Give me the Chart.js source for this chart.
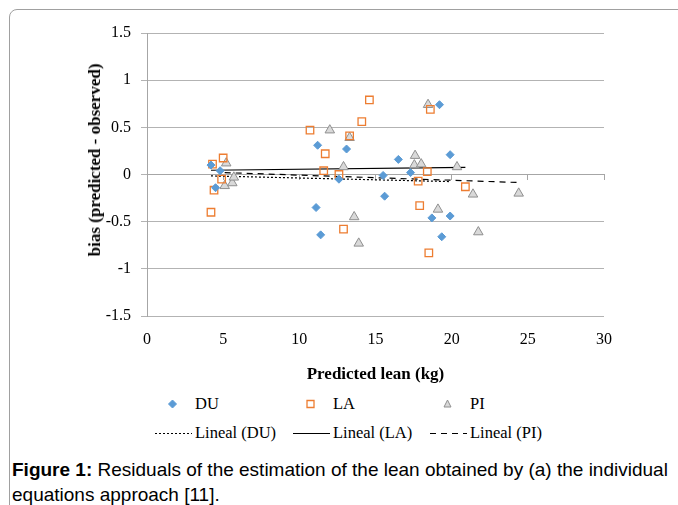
<!DOCTYPE html>
<html>
<head>
<meta charset="utf-8">
<script src="https://cdn.jsdelivr.net/npm/chart.js@4.4.0/dist/chart.umd.min.js"></script>
<style>
  body { margin: 0; background: #fff; width: 678px; height: 505px; overflow: hidden; position: relative; }
  .frame { position: absolute; left: 9px; top: 9px; width: 720px; height: 540px; border: 1px solid #a0a0a0; border-top-left-radius: 8px; }
  .chart-box { position: absolute; left: 0; top: 0; width: 678px; height: 385px; }
  .ytitle { position: absolute; left: 95px; top: 160px; transform: translate(-50%, -50%) rotate(-90deg);
            font: bold 17px "Liberation Serif"; white-space: nowrap; color: #000; }
  .leg { position: absolute; font: 16.5px "Liberation Serif"; color: #000; white-space: nowrap; }
  .leg canvas { position: absolute; }
  .caption { position: absolute; left: 12px; top: 457px; width: 664px; font: 19px "Liberation Sans"; line-height: 25px; color: #000; }
</style>
</head>
<body>
<div class="frame"></div>
<div class="chart-box"><canvas id="chart"></canvas></div>
<div class="ytitle">bias (predicted - observed)</div>
<div id="legend"></div>
<div class="caption"><b>Figure 1:</b> Residuals of the estimation of the lean obtained by (a) the individual equations approach [11].</div>
<script>
// residuals
const duX = [4.2, 4.8, 4.5, 11.2, 11.1, 11.4, 13.1, 12.6, 15.5, 15.6, 16.5, 17.3, 18.7, 19.2, 19.35, 19.9, 19.9];
const duY = [0.10, 0.04, -0.14, 0.31, -0.35, -0.64, 0.27, -0.05, -0.01, -0.23, 0.16, 0.02, -0.46, 0.74, -0.66, 0.21, -0.44];

const laX = [4.2, 4.3, 4.4, 4.9, 5.0, 10.7, 11.6, 11.7, 12.6, 12.9, 13.3, 14.1, 14.6, 17.8, 17.9, 18.4, 18.5, 18.6, 20.9];
const laY = [-0.40, 0.11, -0.165, -0.05, 0.175, 0.47, 0.04, 0.22, 0.0, -0.58, 0.41, 0.56, 0.79, -0.07, -0.33, 0.03, -0.83, 0.69, -0.13];

const piX = [5.1, 5.2, 5.6, 5.7, 12.0, 12.9, 13.3, 13.6, 13.9, 17.55, 17.6, 18.0, 18.45, 19.1, 20.35, 21.4, 21.75, 24.4];
const piY = [-0.12, 0.12, -0.09, -0.03, 0.47, 0.08, 0.39, -0.45, -0.73, 0.10, 0.20, 0.11, 0.74, -0.37, 0.08, -0.21, -0.61, -0.20];

// trend line end points
const duTrendX = [4.2, 19.9];
const duTrendY = [-0.015, -0.075];
const laTrendX = [4.2, 20.9];
const laTrendY = [0.045, 0.075];
const piTrendX = [5.1, 24.4];
const piTrendY = [0.02, -0.085];

const xTicks = [0, 5, 10, 15, 20, 25, 30];
const yTicks = [-1.5, -1, -0.5, 0, 0.5, 1, 1.5];

const pts = (xs, ys) => xs.map((x, i) => ({ x: x, y: ys[i] }));

const axisGray = "#a6a6a6";
const serif = "Liberation Serif";

const datasets = [
  { label: "DU", data: pts(duX, duY), pointStyle: "rectRot", pointRadius: 4, backgroundColor: "#5b9bd5", borderColor: "#5b9bd5", borderWidth: 1 },
  { label: "LA", data: pts(laX, laY), pointStyle: "rect", pointRadius: 5.3, backgroundColor: "rgba(255,255,255,0)", borderColor: "#ed7d31", borderWidth: 1.3 },
  { label: "PI", data: pts(piX, piY), pointStyle: "triangle", pointRadius: 5.5, backgroundColor: "#d9d9d9", borderColor: "#8f8f8f", borderWidth: 1 },
  { label: "Lineal (DU)", data: pts(duTrendX, duTrendY), showLine: true, pointRadius: 0, borderColor: "#000", borderWidth: 1.2, borderDash: [2, 2] },
  { label: "Lineal (LA)", data: pts(laTrendX, laTrendY), showLine: true, pointRadius: 0, borderColor: "#000", borderWidth: 1.2 },
  { label: "Lineal (PI)", data: pts(piTrendX, piTrendY), showLine: true, pointRadius: 0, borderColor: "#000", borderWidth: 1.2, borderDash: [6, 5] }
];

const chart = new Chart(document.getElementById("chart"), {
  type: "scatter",
  data: { datasets: datasets },
  options: {
    responsive: true,
    maintainAspectRatio: false,
    animation: false,
    layout: { padding: { left: 0, top: 33, right: 74, bottom: 0 } },
    plugins: { legend: { display: false }, tooltip: { enabled: false } },
    scales: {
      x: {
        type: "linear",
        position: "bottom",
        min: 0, max: 30,
        afterBuildTicks: (s) => { s.ticks = xTicks.map(v => ({ value: v })); },
        afterFit: (s) => { s.height = 69; },
        grid: { display: false, drawTicks: false },
        border: { display: false },
        ticks: { color: "#000", padding: 14, font: { family: serif, size: 16 }, callback: (v) => String(v) },
        title: { display: true, text: "Predicted lean (kg)", color: "#000", padding: { top: 0, bottom: 0 }, font: { family: serif, size: 17, weight: "bold" } }
      },
      x0: {
        type: "linear",
        position: { y: 0 },
        min: 0, max: 30,
        afterBuildTicks: (s) => { s.ticks = xTicks.map(v => ({ value: v })); },
        grid: { drawOnChartArea: false, drawTicks: true, tickLength: 5, color: axisGray },
        border: { color: axisGray, width: 1 },
        ticks: { display: false }
      },
      y: {
        type: "linear",
        min: -1.5, max: 1.5,
        afterBuildTicks: (s) => { s.ticks = yTicks.map(v => ({ value: v })); },
        afterFit: (s) => { s.width = 147; },
        grid: { color: "#b3b3b3", tickLength: 6 },
        border: { color: axisGray },
        ticks: { color: "#000", padding: 10, font: { family: serif, size: 16 }, callback: (v) => String(v) }
      }
    }
  }
});

// legend laid out as in the figure: markers on the first row, trend lines on the second
const legendCols = [195, 333, 470];
const legendRows = [404, 433];
const legendBox = document.getElementById("legend");

function drawMarker(ctx, ds, cx, cy) {
  ctx.fillStyle = ds.backgroundColor;
  ctx.strokeStyle = ds.borderColor;
  ctx.lineWidth = ds.borderWidth;
  ctx.beginPath();
  if (ds.pointStyle === "rectRot") {
    const r = 4;
    ctx.moveTo(cx, cy - r); ctx.lineTo(cx + r, cy); ctx.lineTo(cx, cy + r); ctx.lineTo(cx - r, cy); ctx.closePath();
  } else if (ds.pointStyle === "rect") {
    ctx.rect(cx - 3.5, cy - 3.5, 7, 7);
  } else {
    ctx.moveTo(cx, cy - 4); ctx.lineTo(cx + 3.5, cy + 3); ctx.lineTo(cx - 3.5, cy + 3); ctx.closePath();
  }
  ctx.fill();
  ctx.stroke();
}

chart.data.datasets.forEach((ds, i) => {
  const row = Math.floor(i / 3), col = i % 3;
  const item = document.createElement("div");
  item.className = "leg";
  item.style.left = (legendCols[col] - 42) + "px";
  item.style.top = (legendRows[row] - 12) + "px";
  item.style.height = "24px";
  item.style.lineHeight = "24px";
  item.style.paddingLeft = "42px";
  const c = document.createElement("canvas");
  c.width = 40; c.height = 24;
  c.style.left = "0px"; c.style.top = "0px";
  const ctx = c.getContext("2d");
  if (ds.showLine) {
    ctx.strokeStyle = "#000";
    ctx.lineWidth = 1;
    ctx.setLineDash(ds.borderDash || []);
    ctx.beginPath();
    ctx.moveTo(2, 12.5); ctx.lineTo(39, 12.5);
    ctx.stroke();
  } else {
    drawMarker(ctx, ds, 19.5, 12);
  }
  item.appendChild(c);
  item.appendChild(document.createTextNode(ds.label));
  legendBox.appendChild(item);
});
</script>
</body>
</html>
